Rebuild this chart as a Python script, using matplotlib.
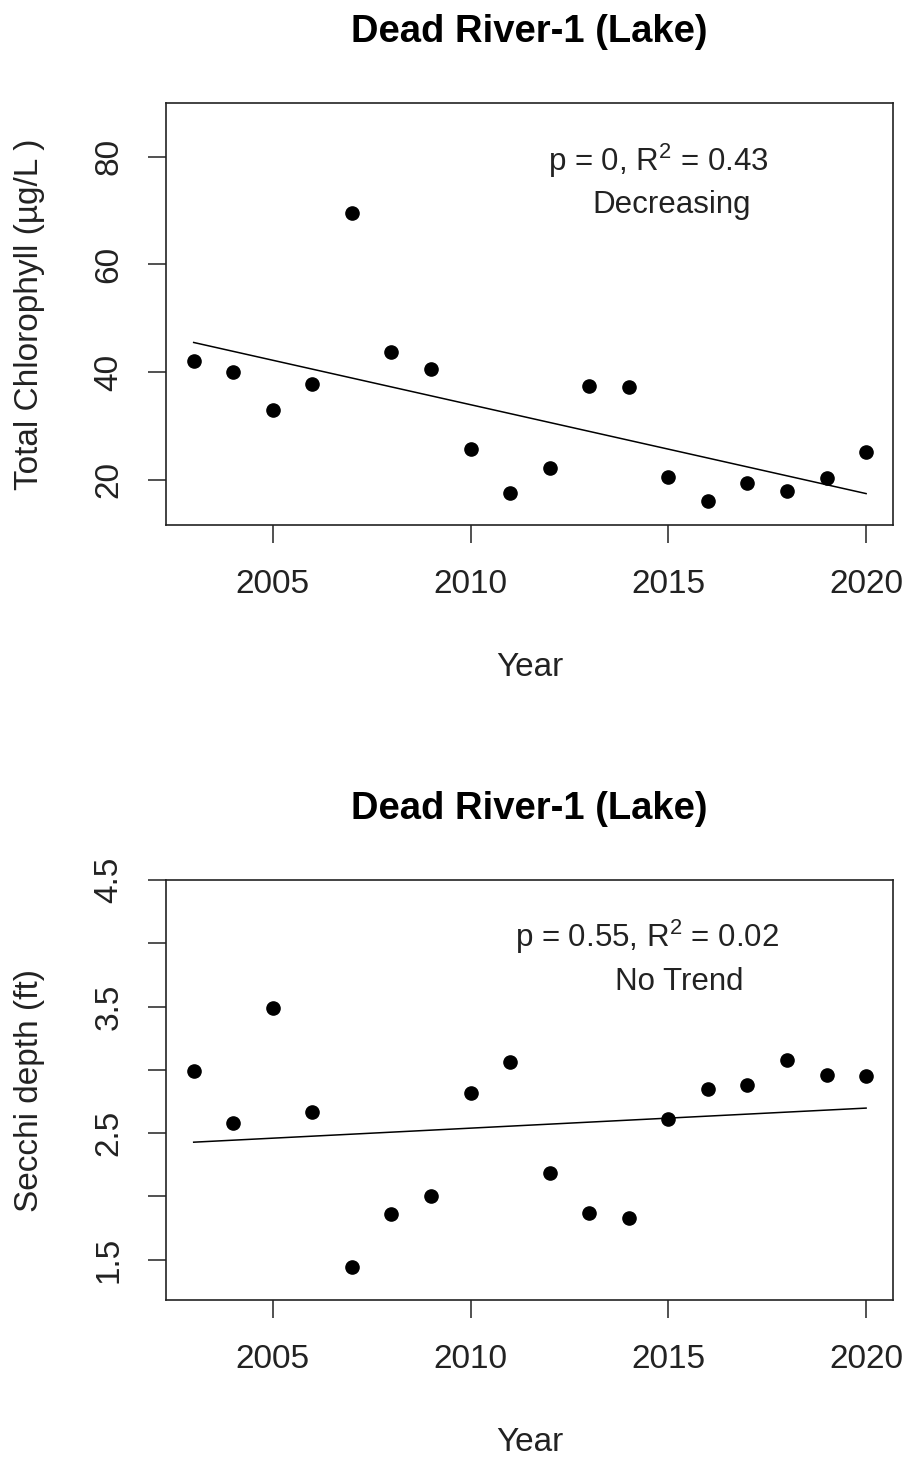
import matplotlib
matplotlib.use("Agg")
import matplotlib.pyplot as plt
import numpy as np

plt.rcParams['font.family'] = ['Liberation Sans', 'DejaVu Sans']
plt.rcParams['mathtext.fontset'] = 'custom'
plt.rcParams['mathtext.rm'] = 'Liberation Sans'
plt.rcParams['mathtext.default'] = 'regular'

# data
years = np.arange(2003, 2021)
chlorophyll = [42.0, 40.1, 33.0, 37.8, 69.5, 43.8, 40.6, 25.8, 17.5,
               22.1, 37.5, 37.2, 20.6, 16.1, 19.4, 18.0, 20.3, 25.2]
secchi = [2.99, 2.58, 3.49, 2.67, 1.44, 1.86, 2.00, 2.82, 3.06,
          2.18, 1.87, 1.83, 2.61, 2.85, 2.88, 3.08, 2.96, 2.95]

title = "Dead River-1 (Lake)"
chl_stats = ["p = 0, R$^2$ = 0.43", "Decreasing"]
sec_stats = ["p = 0.55, R$^2$ = 0.02", "No Trend"]

chl_yticks = [20, 40, 60, 80]
sec_yticks = [1.5, 2.0, 2.5, 3.0, 3.5, 4.0, 4.5]
sec_ylabels = ["1.5", "", "2.5", "", "3.5", "", "4.5"]
xticks = [2005, 2010, 2015, 2020]

W, H = 909, 1457
fig = plt.figure(figsize=(W / 100, H / 100), dpi=100)

left = 166 / W
width = (893 - 166) / W
ax1 = fig.add_axes([left, 1 - 525 / H, width, (525 - 103) / H])
ax2 = fig.add_axes([left, 1 - 1300 / H, width, (1300 - 880) / H])


def panel(ax, y, ylim, yticks, ylabels, ylabel, stats, pos):
    ax.plot(years, y, 'o', color='black', markersize=9.5)
    slope, icpt = np.polyfit(years, y, 1)
    ax.plot(years, slope * years + icpt, color='black', lw=1.1)
    ax.set_xlim(2002.3, 2020.68)
    ax.set_ylim(*ylim)
    ax.set_xticks(xticks)
    ax.set_yticks(yticks)
    ax.set_yticklabels(ylabels, rotation=90, va='center')
    ax.tick_params(direction='out', length=13, width=1.1, labelsize=24,
                   pad=19, colors='#222222')
    ax.tick_params(axis='y', pad=17)
    for s in ax.spines.values():
        s.set_linewidth(1.2)
        s.set_color('#222222')
    ax.set_title(title, fontsize=27.5, fontweight='bold', pad=44)
    ax.set_xlabel("Year", fontsize=24, labelpad=37, color='#222222')
    ax.set_ylabel(ylabel, fontsize=24, color='#222222')
    ax.yaxis.set_label_coords(-0.166, 0.5)
    ax.text(pos[0][0], pos[0][1], stats[0], transform=ax.transAxes,
            ha='center', va='center', fontsize=22.5, color='#222222')
    ax.text(pos[1][0], pos[1][1], stats[1], transform=ax.transAxes,
            ha='center', va='center', fontsize=22.5, color='#222222')


panel(ax1, chlorophyll, (11.6, 90), chl_yticks, [str(t) for t in chl_yticks],
      "Total Chlorophyll (µg/L )", chl_stats, [(0.677, 0.862), (0.695, 0.758)])
panel(ax2, secchi, (1.18, 4.5), sec_yticks, sec_ylabels,
      "Secchi depth (ft)", sec_stats, [(0.661, 0.864), (0.706, 0.757)])

fig.savefig("out.png", dpi=100)
